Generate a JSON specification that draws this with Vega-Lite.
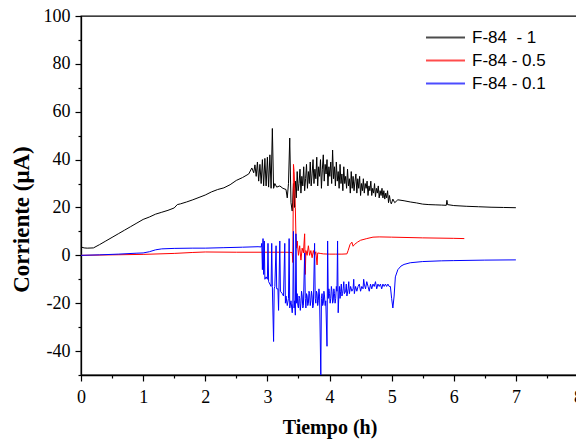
{
  "$schema": "https://vega.github.io/schema/vega-lite/v6.json",
  "width": 497,
  "height": 359,
  "autosize": {"type": "none"},
  "padding": {"left": 81, "top": 16, "right": 0, "bottom": 66},
  "background": "white",
  "config": {
    "view": {"stroke": "black", "strokeWidth": 1.3},
    "axis": {"domainColor": "black", "domainWidth": 1.3, "tickColor": "black", "tickWidth": 1.2, "grid": false, "labelColor": "black", "titleColor": "black"}
  },
  "data": {"values": [
    {"s":"A","t":0,"y":3.5},{"s":"A","t":0.05,"y":3.1},{"s":"A","t":0.1,"y":3.0},{"s":"A","t":0.2,"y":3.1},{"s":"A","t":0.3,"y":4.5},{"s":"A","t":0.4,"y":6},{"s":"A","t":0.5,"y":7.5},{"s":"A","t":0.6,"y":9},{"s":"A","t":0.7,"y":10.5},{"s":"A","t":0.8,"y":12},{"s":"A","t":0.9,"y":13.5},{"s":"A","t":1.0,"y":15},{"s":"A","t":1.1,"y":16},{"s":"A","t":1.2,"y":17.2},{"s":"A","t":1.3,"y":18},{"s":"A","t":1.4,"y":18.8},{"s":"A","t":1.5,"y":19.8},{"s":"A","t":1.55,"y":21.2},{"s":"A","t":1.6,"y":21.5},{"s":"A","t":1.7,"y":22.3},{"s":"A","t":1.8,"y":23.2},{"s":"A","t":1.9,"y":24.2},{"s":"A","t":2.0,"y":25.2},{"s":"A","t":2.1,"y":26.5},{"s":"A","t":2.2,"y":27.5},{"s":"A","t":2.3,"y":28.2},{"s":"A","t":2.4,"y":29.5},{"s":"A","t":2.5,"y":31.3},{"s":"A","t":2.6,"y":32.5},{"s":"A","t":2.7,"y":34},{"s":"A","t":2.75,"y":36.5},{"s":"A","t":2.78,"y":34.5},{"s":"A","t":2.8,"y":37.8},{"s":"A","t":2.82,"y":33},{"s":"A","t":2.84,"y":39},{"s":"A","t":2.86,"y":31},{"s":"A","t":2.88,"y":38},{"s":"A","t":2.9,"y":30},{"s":"A","t":2.92,"y":40},{"s":"A","t":2.94,"y":29},{"s":"A","t":2.96,"y":40.5},{"s":"A","t":2.98,"y":29},{"s":"A","t":3.0,"y":41},{"s":"A","t":3.02,"y":28.5},{"s":"A","t":3.04,"y":42},{"s":"A","t":3.06,"y":28},{"s":"A","t":3.08,"y":53},{"s":"A","t":3.1,"y":28},{"s":"A","t":3.12,"y":30},{"s":"A","t":3.15,"y":28.5},{"s":"A","t":3.2,"y":29},{"s":"A","t":3.25,"y":28},{"s":"A","t":3.3,"y":27.5},{"s":"A","t":3.32,"y":24},{"s":"A","t":3.34,"y":30},{"s":"A","t":3.36,"y":49},{"s":"A","t":3.38,"y":22},{"s":"A","t":3.4,"y":18.5},{"s":"A","t":3.42,"y":30},{"s":"A","t":3.435,"y":20},
    {"s":"A","t":3.45,"y":31},{"s":"A","t":3.465,"y":24},{"s":"A","t":3.48,"y":35},{"s":"A","t":3.495,"y":27},{"s":"A","t":3.51,"y":30},{"s":"A","t":3.525,"y":36},{"s":"A","t":3.54,"y":26},{"s":"A","t":3.555,"y":33},{"s":"A","t":3.57,"y":29},{"s":"A","t":3.585,"y":37},{"s":"A","t":3.6,"y":27},{"s":"A","t":3.615,"y":32},{"s":"A","t":3.63,"y":38},{"s":"A","t":3.645,"y":28},{"s":"A","t":3.66,"y":35},{"s":"A","t":3.675,"y":30},{"s":"A","t":3.69,"y":39},{"s":"A","t":3.705,"y":29},{"s":"A","t":3.72,"y":34},{"s":"A","t":3.735,"y":40},{"s":"A","t":3.75,"y":30},{"s":"A","t":3.765,"y":36},{"s":"A","t":3.78,"y":32},{"s":"A","t":3.795,"y":41},{"s":"A","t":3.81,"y":29},{"s":"A","t":3.825,"y":37},{"s":"A","t":3.84,"y":33},{"s":"A","t":3.855,"y":40},{"s":"A","t":3.87,"y":28},{"s":"A","t":3.885,"y":36},{"s":"A","t":3.9,"y":42},{"s":"A","t":3.915,"y":31},{"s":"A","t":3.93,"y":38},{"s":"A","t":3.945,"y":34},{"s":"A","t":3.96,"y":40},{"s":"A","t":3.975,"y":29},{"s":"A","t":3.99,"y":37},{"s":"A","t":4.005,"y":33},{"s":"A","t":4.02,"y":39},{"s":"A","t":4.035,"y":30},{"s":"A","t":4.05,"y":44},{"s":"A","t":4.065,"y":32},{"s":"A","t":4.08,"y":37},{"s":"A","t":4.095,"y":29},{"s":"A","t":4.11,"y":39},{"s":"A","t":4.125,"y":31},{"s":"A","t":4.14,"y":35},{"s":"A","t":4.155,"y":28},{"s":"A","t":4.17,"y":38},{"s":"A","t":4.185,"y":30},{"s":"A","t":4.2,"y":34},{"s":"A","t":4.215,"y":27},{"s":"A","t":4.23,"y":37},{"s":"A","t":4.245,"y":30},{"s":"A","t":4.26,"y":33},{"s":"A","t":4.275,"y":28},{"s":"A","t":4.29,"y":36},{"s":"A","t":4.305,"y":29},{"s":"A","t":4.32,"y":32},{"s":"A","t":4.335,"y":26},{"s":"A","t":4.35,"y":35},{"s":"A","t":4.365,"y":28},{"s":"A","t":4.38,"y":33},{"s":"A","t":4.395,"y":27},{"s":"A","t":4.41,"y":31},{"s":"A","t":4.425,"y":34},{"s":"A","t":4.44,"y":26},{"s":"A","t":4.455,"y":32},{"s":"A","t":4.47,"y":28},{"s":"A","t":4.485,"y":33},{"s":"A","t":4.5,"y":25},{"s":"A","t":4.515,"y":30},{"s":"A","t":4.53,"y":27},{"s":"A","t":4.545,"y":32},{"s":"A","t":4.56,"y":26},{"s":"A","t":4.575,"y":30},{"s":"A","t":4.59,"y":28},{"s":"A","t":4.605,"y":31},{"s":"A","t":4.62,"y":25},{"s":"A","t":4.635,"y":29},{"s":"A","t":4.65,"y":27},{"s":"A","t":4.665,"y":31},{"s":"A","t":4.68,"y":25},{"s":"A","t":4.695,"y":28},{"s":"A","t":4.71,"y":26},{"s":"A","t":4.725,"y":30},{"s":"A","t":4.74,"y":24.5},{"s":"A","t":4.755,"y":28},{"s":"A","t":4.77,"y":26},{"s":"A","t":4.785,"y":29},{"s":"A","t":4.8,"y":24},{"s":"A","t":4.815,"y":27},{"s":"A","t":4.83,"y":25},{"s":"A","t":4.845,"y":28},{"s":"A","t":4.86,"y":24},{"s":"A","t":4.875,"y":27},{"s":"A","t":4.89,"y":23.5},{"s":"A","t":4.905,"y":26},{"s":"A","t":4.92,"y":24},{"s":"A","t":4.935,"y":27},{"s":"A","t":4.95,"y":22},{"s":"A","t":4.965,"y":25},{"s":"A","t":4.98,"y":22.5},{"s":"A","t":4.995,"y":21.5},
    {"s":"A","t":5.02,"y":23.5},{"s":"A","t":5.05,"y":22},{"s":"A","t":5.1,"y":23.2},{"s":"A","t":5.2,"y":22.8},{"s":"A","t":5.3,"y":22.3},{"s":"A","t":5.4,"y":21.9},{"s":"A","t":5.5,"y":21.4},{"s":"A","t":5.6,"y":21.2},{"s":"A","t":5.7,"y":21.1},{"s":"A","t":5.8,"y":21.0},{"s":"A","t":5.88,"y":20.9},{"s":"A","t":5.89,"y":23},{"s":"A","t":5.9,"y":21.2},{"s":"A","t":6.0,"y":20.8},{"s":"A","t":6.2,"y":20.5},{"s":"A","t":6.4,"y":20.3},{"s":"A","t":6.6,"y":20.1},{"s":"A","t":6.8,"y":20.0},{"s":"A","t":7.0,"y":19.9},
    {"s":"B","t":0,"y":0},{"s":"B","t":0.5,"y":0.2},{"s":"B","t":1.0,"y":0.4},{"s":"B","t":1.5,"y":0.8},{"s":"B","t":1.8,"y":1.2},{"s":"B","t":2.0,"y":1.4},{"s":"B","t":2.5,"y":1.3},{"s":"B","t":3.0,"y":1.3},{"s":"B","t":3.3,"y":1.3},{"s":"B","t":3.4,"y":1.2},{"s":"B","t":3.41,"y":-3},{"s":"B","t":3.42,"y":38},{"s":"B","t":3.43,"y":35},{"s":"B","t":3.44,"y":28},{"s":"B","t":3.45,"y":20},{"s":"B","t":3.46,"y":8},{"s":"B","t":3.47,"y":3},{"s":"B","t":3.48,"y":6},{"s":"B","t":3.5,"y":0},{"s":"B","t":3.52,"y":4},{"s":"B","t":3.54,"y":-2},{"s":"B","t":3.56,"y":3},{"s":"B","t":3.58,"y":1},{"s":"B","t":3.6,"y":9},{"s":"B","t":3.61,"y":-8},{"s":"B","t":3.62,"y":2},{"s":"B","t":3.64,"y":0},{"s":"B","t":3.66,"y":4},{"s":"B","t":3.68,"y":0},{"s":"B","t":3.7,"y":2},{"s":"B","t":3.72,"y":-1},{"s":"B","t":3.74,"y":2},{"s":"B","t":3.76,"y":0},{"s":"B","t":3.78,"y":1.5},{"s":"B","t":3.8,"y":-4},{"s":"B","t":3.81,"y":1},{"s":"B","t":3.85,"y":0.8},{"s":"B","t":3.9,"y":0.6},{"s":"B","t":4.0,"y":0.5},{"s":"B","t":4.1,"y":0.5},{"s":"B","t":4.2,"y":0.5},{"s":"B","t":4.28,"y":0.6},{"s":"B","t":4.3,"y":2},{"s":"B","t":4.33,"y":4.5},{"s":"B","t":4.36,"y":5.5},{"s":"B","t":4.38,"y":3.8},{"s":"B","t":4.4,"y":4.5},{"s":"B","t":4.45,"y":5.5},{"s":"B","t":4.5,"y":6.3},{"s":"B","t":4.6,"y":7},{"s":"B","t":4.7,"y":7.6},{"s":"B","t":4.8,"y":7.7},{"s":"B","t":5.0,"y":7.6},{"s":"B","t":5.5,"y":7.3},{"s":"B","t":6.0,"y":7.1},{"s":"B","t":6.17,"y":7.0},
    {"s":"C","t":0,"y":0},{"s":"C","t":0.3,"y":0.2},{"s":"C","t":0.6,"y":0.5},{"s":"C","t":0.9,"y":0.9},{"s":"C","t":1.0,"y":1.0},{"s":"C","t":1.1,"y":1.5},{"s":"C","t":1.2,"y":2.3},{"s":"C","t":1.3,"y":2.7},{"s":"C","t":1.5,"y":2.9},{"s":"C","t":1.8,"y":3.0},{"s":"C","t":2.0,"y":3.0},{"s":"C","t":2.3,"y":3.2},{"s":"C","t":2.6,"y":3.4},{"s":"C","t":2.85,"y":3.6},{"s":"C","t":2.9,"y":3.5},{"s":"C","t":2.91,"y":5},{"s":"C","t":2.92,"y":-6},{"s":"C","t":2.93,"y":7},{"s":"C","t":2.94,"y":-8},{"s":"C","t":2.95,"y":6},{"s":"C","t":2.96,"y":-10},{"s":"C","t":2.98,"y":-9},{"s":"C","t":3.0,"y":-10},{"s":"C","t":3.01,"y":5},{"s":"C","t":3.02,"y":-11},{"s":"C","t":3.04,"y":-12},{"s":"C","t":3.06,"y":-13},{"s":"C","t":3.07,"y":5},{"s":"C","t":3.08,"y":-13},{"s":"C","t":3.1,"y":-36},{"s":"C","t":3.11,"y":-14},{"s":"C","t":3.12,"y":-13},{"s":"C","t":3.14,"y":4},{"s":"C","t":3.15,"y":-14},{"s":"C","t":3.17,"y":-14},{"s":"C","t":3.18,"y":-23},{"s":"C","t":3.2,"y":6},{"s":"C","t":3.21,"y":-15},{"s":"C","t":3.24,"y":-16},{"s":"C","t":3.26,"y":-17},{"s":"C","t":3.28,"y":5},{"s":"C","t":3.29,"y":-20},{"s":"C","t":3.3,"y":-17},{"s":"C","t":3.32,"y":-21},{"s":"C","t":3.34,"y":-18},{"s":"C","t":3.35,"y":7},{"s":"C","t":3.36,"y":-22},{"s":"C","t":3.38,"y":-19},{"s":"C","t":3.4,"y":-24},{"s":"C","t":3.41,"y":-20},{"s":"C","t":3.42,"y":10},{"s":"C","t":3.43,"y":-22},{"s":"C","t":3.44,"y":-19},{"s":"C","t":3.45,"y":-25},{"s":"C","t":3.46,"y":9},{"s":"C","t":3.47,"y":-20},{"s":"C","t":3.48,"y":-16},{"s":"C","t":3.49,"y":-21},{"s":"C","t":3.5,"y":-22},{"s":"C","t":3.51,"y":-17},{"s":"C","t":3.52,"y":-18},{"s":"C","t":3.53,"y":-23},{"s":"C","t":3.54,"y":-20},{"s":"C","t":3.55,"y":-15},{"s":"C","t":3.56,"y":-17},{"s":"C","t":3.57,"y":-22},{"s":"C","t":3.58,"y":-21},{"s":"C","t":3.6,"y":1},{"s":"C","t":3.61,"y":-18},{"s":"C","t":3.62,"y":-22},{"s":"C","t":3.63,"y":-16},{"s":"C","t":3.64,"y":-17},{"s":"C","t":3.65,"y":-21},{"s":"C","t":3.66,"y":-20},{"s":"C","t":3.67,"y":-15},{"s":"C","t":3.68,"y":-16},{"s":"C","t":3.69,"y":-21},{"s":"C","t":3.7,"y":-19},{"s":"C","t":3.71,"y":-15},{"s":"C","t":3.72,"y":-17},{"s":"C","t":3.73,"y":-22},{"s":"C","t":3.74,"y":-21},{"s":"C","t":3.76,"y":5},{"s":"C","t":3.77,"y":-18},{"s":"C","t":3.78,"y":-20},{"s":"C","t":3.79,"y":-15},{"s":"C","t":3.8,"y":-16},{"s":"C","t":3.81,"y":-21},{"s":"C","t":3.82,"y":-19},{"s":"C","t":3.83,"y":-14},{"s":"C","t":3.84,"y":-17},{"s":"C","t":3.86,"y":-50},{"s":"C","t":3.87,"y":-18},{"s":"C","t":3.88,"y":-16},{"s":"C","t":3.89,"y":-21},{"s":"C","t":3.9,"y":-20},{"s":"C","t":3.91,"y":-15},{"s":"C","t":3.92,"y":-17},{"s":"C","t":3.93,"y":-21},{"s":"C","t":3.94,"y":-19},{"s":"C","t":3.96,"y":-38},{"s":"C","t":3.97,"y":6},{"s":"C","t":3.98,"y":-18},{"s":"C","t":3.99,"y":-14},{"s":"C","t":4.0,"y":-16},{"s":"C","t":4.01,"y":-20},{"s":"C","t":4.02,"y":-18},{"s":"C","t":4.03,"y":-13},{"s":"C","t":4.04,"y":-15},{"s":"C","t":4.05,"y":-20},{"s":"C","t":4.06,"y":-19},{"s":"C","t":4.07,"y":-14},{"s":"C","t":4.08,"y":-16},{"s":"C","t":4.09,"y":-20},{"s":"C","t":4.1,"y":-18},{"s":"C","t":4.11,"y":-13},{"s":"C","t":4.12,"y":-15},{"s":"C","t":4.13,"y":6},{"s":"C","t":4.14,"y":-24},{"s":"C","t":4.15,"y":-17},{"s":"C","t":4.16,"y":-13},{"s":"C","t":4.17,"y":-18},{"s":"C","t":4.18,"y":-15},{"s":"C","t":4.19,"y":-12},{"s":"C","t":4.2,"y":-17},{"s":"C","t":4.21,"y":-16},{"s":"C","t":4.22,"y":-14},{"s":"C","t":4.23,"y":-11},{"s":"C","t":4.24,"y":-16},{"s":"C","t":4.26,"y":-15},{"s":"C","t":4.27,"y":-12},{"s":"C","t":4.28,"y":-17},{"s":"C","t":4.3,"y":-14},{"s":"C","t":4.31,"y":-11},{"s":"C","t":4.32,"y":-16},{"s":"C","t":4.34,"y":-13},{"s":"C","t":4.36,"y":-15},{"s":"C","t":4.38,"y":-14},{"s":"C","t":4.39,"y":-10},{"s":"C","t":4.4,"y":-16},{"s":"C","t":4.42,"y":-13},{"s":"C","t":4.44,"y":-15},{"s":"C","t":4.46,"y":-13},{"s":"C","t":4.48,"y":-12},{"s":"C","t":4.5,"y":-15},{"s":"C","t":4.52,"y":-13},{"s":"C","t":4.54,"y":-14},{"s":"C","t":4.55,"y":-10},{"s":"C","t":4.56,"y":-12},{"s":"C","t":4.58,"y":-14},{"s":"C","t":4.6,"y":-11},{"s":"C","t":4.62,"y":-13},{"s":"C","t":4.64,"y":-15},{"s":"C","t":4.66,"y":-12},{"s":"C","t":4.68,"y":-14},{"s":"C","t":4.7,"y":-12},{"s":"C","t":4.72,"y":-13},{"s":"C","t":4.74,"y":-11},{"s":"C","t":4.76,"y":-14},{"s":"C","t":4.78,"y":-12},{"s":"C","t":4.8,"y":-13},{"s":"C","t":4.82,"y":-12},{"s":"C","t":4.84,"y":-14},{"s":"C","t":4.86,"y":-12},{"s":"C","t":4.88,"y":-13},{"s":"C","t":4.9,"y":-12},{"s":"C","t":4.92,"y":-13},{"s":"C","t":4.94,"y":-12},{"s":"C","t":4.96,"y":-13},{"s":"C","t":4.98,"y":-13},{"s":"C","t":5.0,"y":-18},{"s":"C","t":5.02,"y":-22},{"s":"C","t":5.04,"y":-17},{"s":"C","t":5.06,"y":-9},{"s":"C","t":5.1,"y":-6},{"s":"C","t":5.15,"y":-4.5},{"s":"C","t":5.2,"y":-3.8},{"s":"C","t":5.3,"y":-3.1},{"s":"C","t":5.5,"y":-2.6},{"s":"C","t":5.8,"y":-2.3},{"s":"C","t":6.0,"y":-2.2},{"s":"C","t":6.5,"y":-2.0},{"s":"C","t":7.0,"y":-1.9}
  ]},
  "mark": {"type": "line", "strokeWidth": 1, "clip": true, "interpolate": "linear"},
  "encoding": {
    "x": {
      "field": "t", "type": "quantitative",
      "scale": {"domain": [0, 8], "nice": false, "zero": false},
      "axis": {
        "title": "Tiempo (h)", "titleFont": "Liberation Serif", "titleFontSize": 20, "titleFontWeight": "bold", "titlePadding": 11,
        "values": [0,0.5,1,1.5,2,2.5,3,3.5,4,4.5,5,5.5,6,6.5,7,7.5,8],
        "labelExpr": "datum.value % 1 === 0 ? '' + datum.value : ''",
        "labelFont": "Liberation Serif", "labelFontSize": 18, "labelPadding": 7, "labelFlush": false, "labelOverlap": false,
        "tickSize": {"condition": {"test": "datum.value % 1 === 0", "value": 6}, "value": 3}
      }
    },
    "y": {
      "field": "y", "type": "quantitative",
      "scale": {"domain": [-50, 100], "nice": false, "zero": false},
      "axis": {
        "title": "Corriente (μA)", "titleFont": "Liberation Serif", "titleFontSize": 23, "titleFontWeight": "bold", "titlePadding": 10, "titleY": 203,
        "values": [-50,-40,-30,-20,-10,0,10,20,30,40,50,60,70,80,90,100],
        "labelExpr": "datum.value % 20 === 0 ? (datum.value < 0 ? '-' + abs(datum.value) : '' + datum.value) : ''",
        "labelFont": "Liberation Serif", "labelFontSize": 18, "labelPadding": 5, "labelFlush": false, "labelOverlap": false,
        "tickSize": {"condition": {"test": "datum.value % 20 === 0", "value": 6}, "value": 3}
      }
    },
    "color": {
      "field": "s", "type": "nominal",
      "scale": {"domain": ["A", "B", "C"], "range": ["#000000", "#ff0000", "#0000ff"]},
      "legend": {
        "title": null, "orient": "none", "legendX": 356, "legendY": 13, "padding": 0,
        "symbolType": "M-2.6,0H2.6", "symbolSize": 225, "symbolStrokeWidth": 2,
        "labelFont": "Liberation Sans", "labelFontSize": 17, "labelColor": "black", "labelOffset": 18,
        "rowPadding": 5,
        "labelExpr": "datum.label === 'A' ? 'F-84\u00a0 - 1' : (datum.label === 'B' ? 'F-84 - 0.5' : 'F-84 - 0.1')",
        "encode": {"symbols": {"update": {"stroke": {"signal": "datum.value === 'A' ? '#555555' : (datum.value === 'B' ? '#ff5555' : '#7777ff')"}, "fill": {"value": "transparent"}, "strokeOpacity": {"value": 0.7}}}}
      }
    }
  }
}
